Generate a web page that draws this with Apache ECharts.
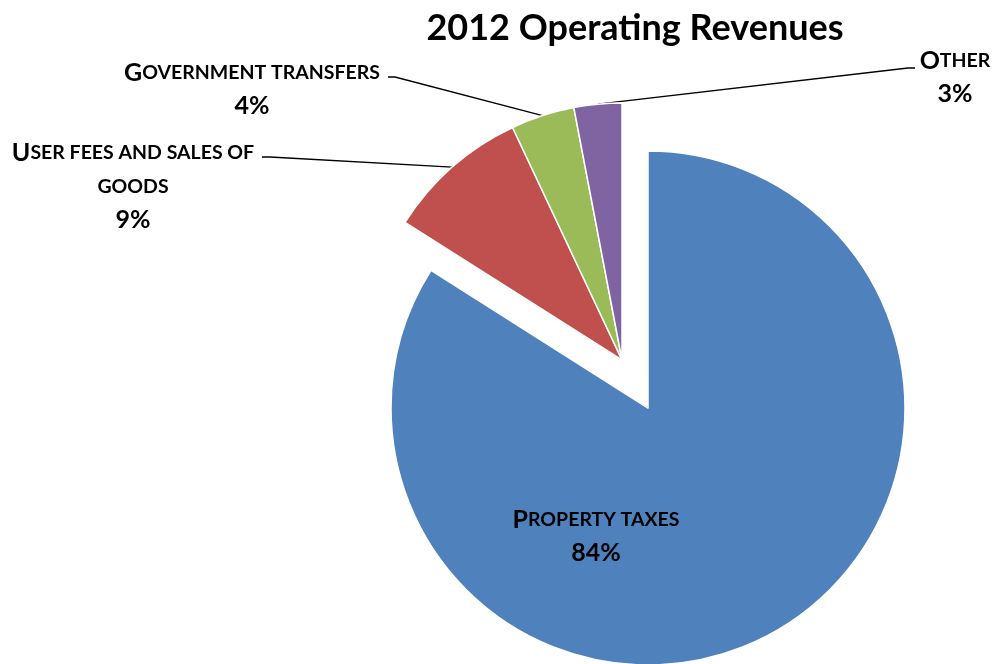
<!DOCTYPE html>
<html><head><meta charset="utf-8">
<script src="https://cdn.jsdelivr.net/npm/echarts@6/dist/echarts.min.js"></script>
<style>html,body{margin:0;padding:0;background:#fff}#c{width:992px;height:664px}</style>
</head><body><div id="c"></div>
<script>
const titleText = '2012 Operating Revenues';
const categories = ['Property taxes', 'User fees and sales of\ngoods', 'Government transfers', 'Other'];
const values = [84, 9, 4, 3];
const colors = ['#4F81BD', '#C0504D', '#9BBB59', '#8064A2'];
const exploded = [true, false, false, false];

function smallCaps(text) {
  return text.split('\n').map(function (line) {
    let out = '', cur = '', curType = null;
    for (const ch of line) {
      const t = (ch !== ch.toLowerCase()) ? 'big' : 'small';
      if (t !== curType && cur) { out += '{' + curType + '|' + cur + '}'; cur = ''; }
      curType = t; cur += ch.toUpperCase();
    }
    if (cur) out += '{' + curType + '|' + cur + '}';
    return out;
  }).join('\n');
}

const labelPlace = [
  { x: 596, y: 536 },
  { x: 133, y: 186, elbow: [270, 157], end: [262, 157] },
  { x: 252, y: 89, elbow: [395, 77], end: [388, 77] },
  { x: 955, y: 77, elbow: [908, 68], end: [915, 68] }
];

const FONT = 'Lato';
const richStyles = {
  big: { fontFamily: FONT, fontWeight: 'bold', fontSize: 25, lineHeight: 34, color: '#000', align: 'center' },
  small: { fontFamily: FONT, fontWeight: 'bold', fontSize: 19.5, lineHeight: 34, color: '#000', align: 'center' },
  pct: { fontFamily: FONT, fontWeight: 'bold', fontSize: 25, lineHeight: 33, color: '#000', align: 'center' }
};

function makeSeries(center, showExploded) {
  return {
    type: 'pie',
    center: center,
    radius: 257,
    startAngle: 90,
    clockwise: true,
    silent: true,
    emphasis: { disabled: true },
    label: {
      show: true, position: 'outside', color: '#000',
      formatter: function (p) { return smallCaps(p.name) + '\n{pct|' + p.value + '%}'; },
      rich: richStyles
    },
    labelLine: { show: true, lineStyle: { color: '#000', width: 1.3 }, length: 20, length2: 20 },
    labelLayout: function (p) {
      const L = labelPlace[p.dataIndex];
      const r = { x: L.x, y: L.y, align: 'center', verticalAlign: 'middle' };
      if (L.elbow && p.labelLinePoints) r.labelLinePoints = [p.labelLinePoints[0], L.elbow, L.end];
      return r;
    },
    data: categories.map(function (c, i) {
      const visible = exploded[i] === showExploded;
      const d = { name: c, value: values[i] };
      if (visible) {
        d.itemStyle = { color: colors[i], borderColor: '#fff', borderWidth: 1.5 };
        if (exploded[i]) d.labelLine = { show: false };
      } else {
        d.itemStyle = { color: 'transparent', borderWidth: 0 };
        d.label = { show: false };
        d.labelLine = { show: false };
      }
      return d;
    })
  };
}

const chart = echarts.init(document.getElementById('c'));
chart.setOption({
  animation: false,
  backgroundColor: '#fff',
  title: {
    text: titleText, left: 630, top: 5, textAlign: 'center',
    textStyle: { fontFamily: FONT, fontWeight: 'bold', fontSize: 36, color: '#000' }
  },
  series: [makeSeries([622, 360], false), makeSeries([648, 408], true)]
});
</script></body></html>
